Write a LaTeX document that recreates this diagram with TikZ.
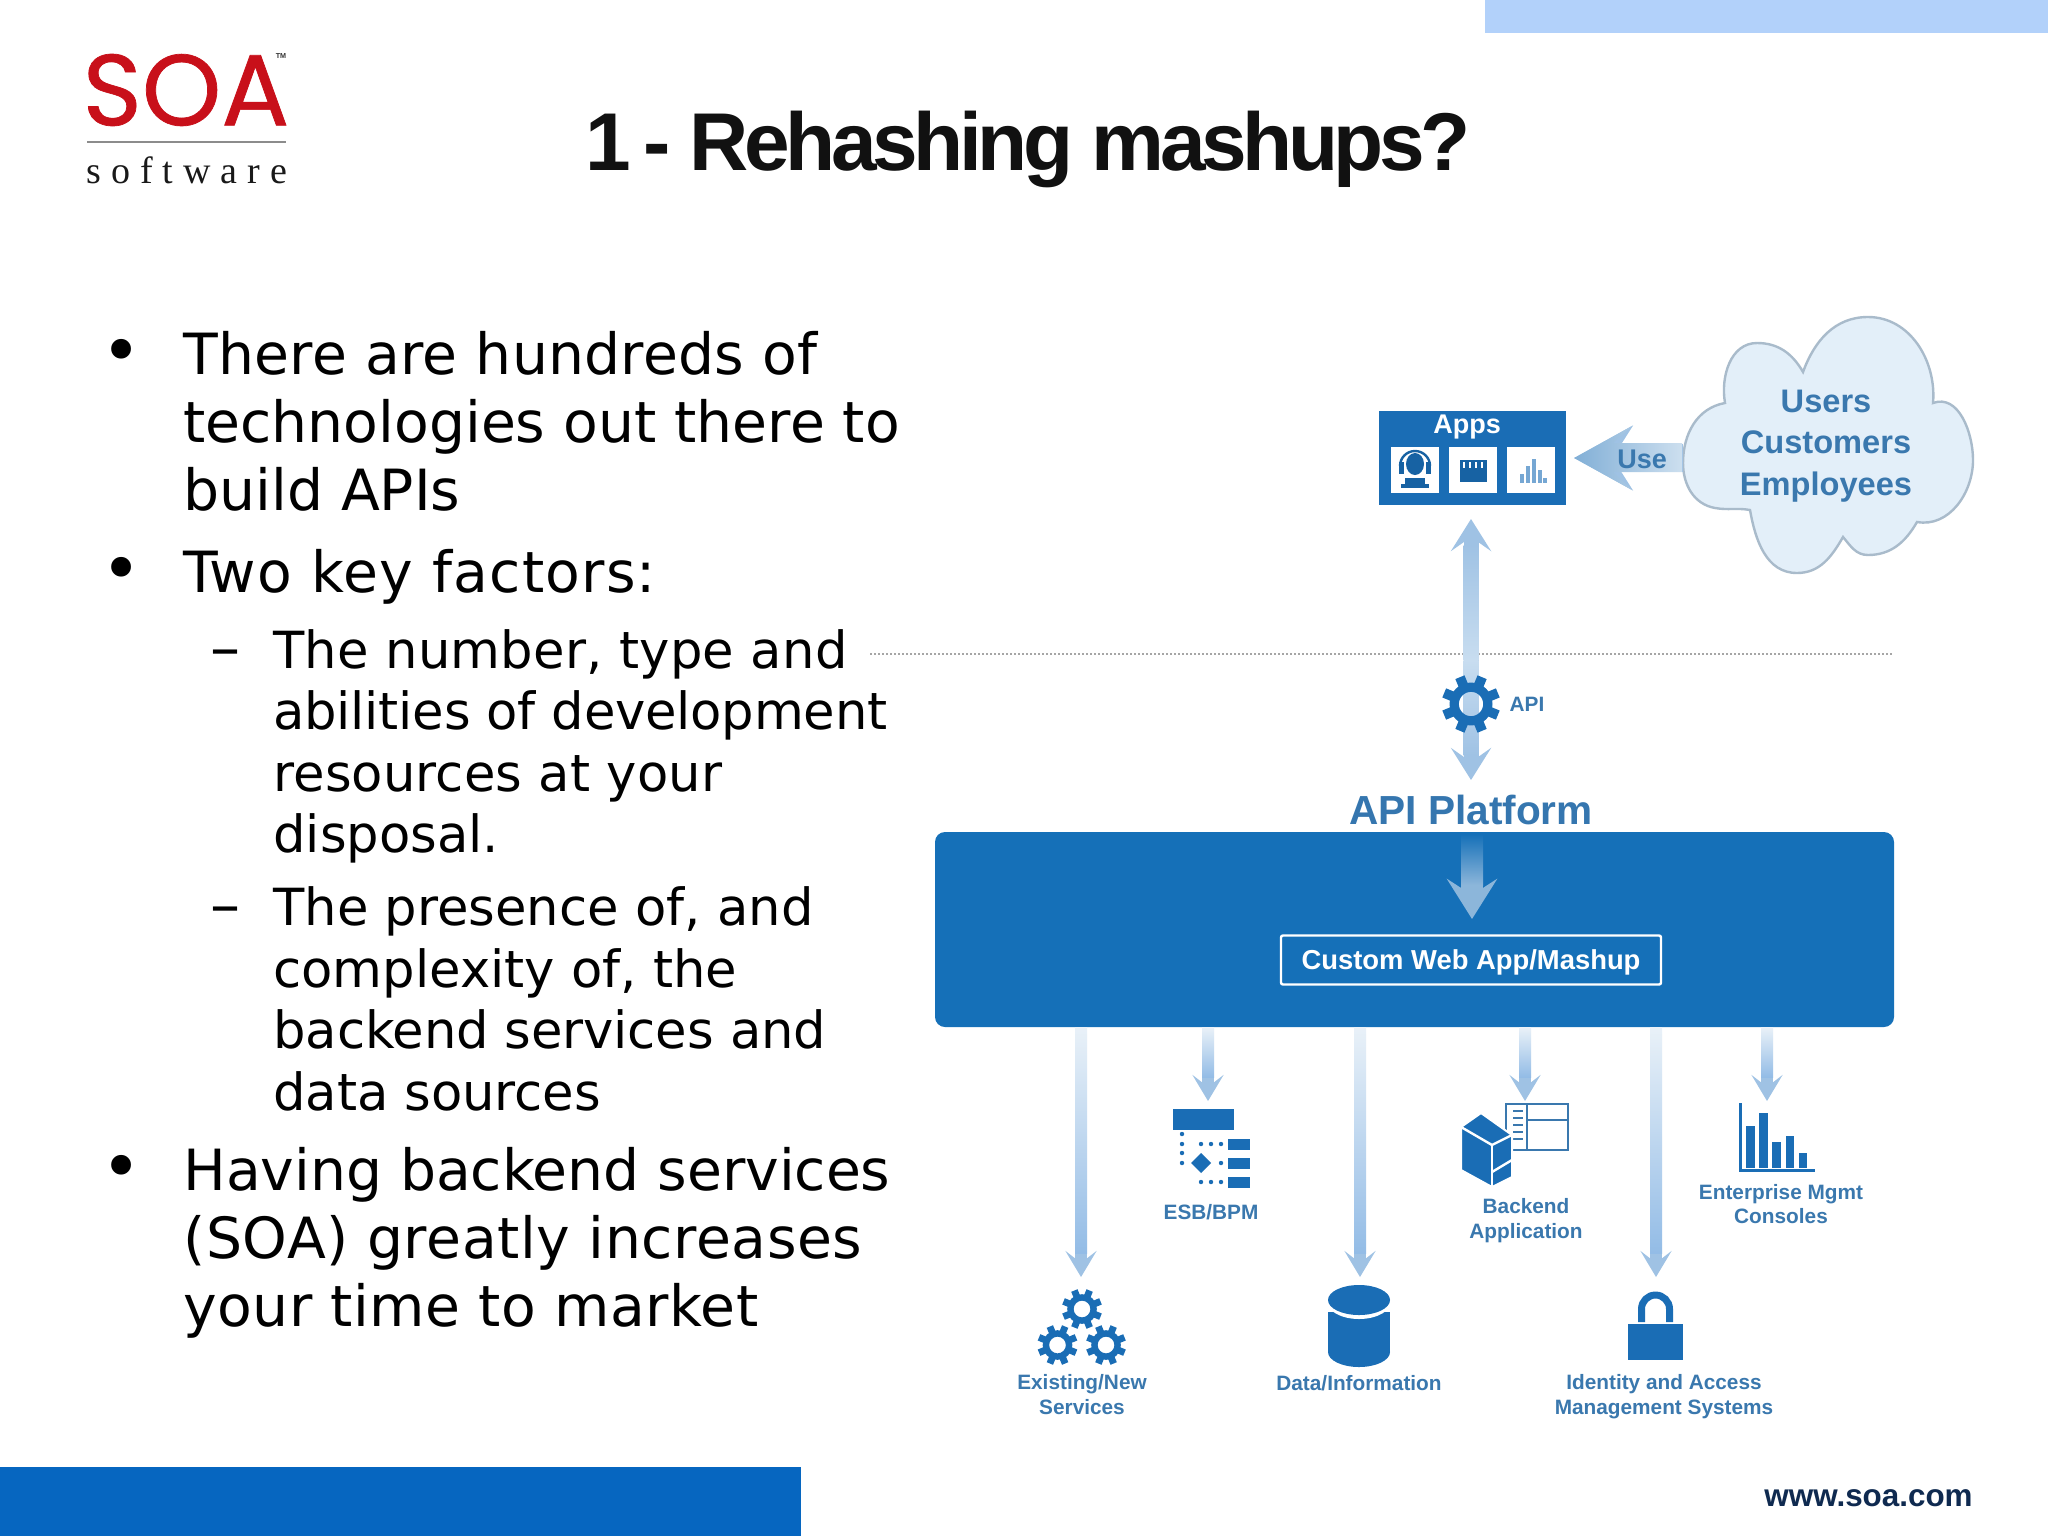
\documentclass[tikz,border=0pt]{standalone}
\usepackage{fontspec}
\setmainfont{DejaVu Sans}
\newfontfamily\arfont{Liberation Sans}
\newfontfamily\serfont{Liberation Serif}
\newfontfamily\logofont[FakeBold=0.7]{Poppins}
\usetikzlibrary{arrows.meta,calc,shapes.geometric}
\definecolor{iconblue}{HTML}{1A6DB5}
\definecolor{labblue}{HTML}{3A78AE}
\definecolor{boxblue}{HTML}{1570B8}
\definecolor{headblue}{HTML}{9FC2E4}
\definecolor{shaftend}{HTML}{93BCE6}
\definecolor{shafttop}{HTML}{E9F1F8}
\definecolor{shaftmid}{HTML}{C8DDF0}
\definecolor{logored}{HTML}{C8101A}
\definecolor{cloudfill}{HTML}{E3EFF9}
\definecolor{cloudedge}{HTML}{A9BBCB}
\definecolor{topbar}{RGB}{178,209,250}
\definecolor{botbar}{RGB}{6,102,192}
\definecolor{navy}{RGB}{15,42,80}
\newcommand\fsz[1]{\fontsize{#1}{#1}\selectfont}
\newcommand\lsp[1]{\addfontfeatures{LetterSpace=#1}}
\tikzset{
  bul/.style={anchor=base west,inner sep=0pt,font=\fsz{28.4},text=black},
  bulmark/.style={anchor=base,inner sep=0pt,font=\fsz{34},text=black},
  subl/.style={anchor=base west,inner sep=0pt,font=\fsz{25.6},text=black},
  submark/.style={anchor=base west,inner sep=0pt,font=\fsz{30},text=black},
  lab/.style={inner sep=0pt,align=center,text=labblue,font=\arfont\bfseries\fsz{10.4}},
  biglab/.style={inner sep=0pt,align=center,text=labblue,font=\arfont\bfseries\fsz{16.3}},
  conn/.style={line width=6pt,color=headblue,-{Stealth[length=13pt,width=15.5pt,inset=6pt]}},
  thinwhite/.style={white,line width=1.2pt},
}
% x, y, radius, colour
\newcommand\gearicon[4]{%
  \begin{scope}[shift={(#1,#2)}]
    \draw[#4,line width=#3*0.16pt] (0,0) circle[radius=#3*0.58];
    \foreach \a in {0,45,...,315}{
      \fill[#4,rotate=\a+22.5] (-#3*0.17,#3*0.6) rectangle (#3*0.17,#3);
    }
  \end{scope}}
% from, to: shaft gradient drawn over the connector
\newcommand\downconn[2]{%
  \draw[conn] (#1) -- (#2);
  \shade[top color=shafttop,bottom color=shaftend] ($(#1)+(-6,0)$) rectangle ($(#2)+(6,-24)$);}
\begin{document}
\begin{tikzpicture}[x=0.5pt,y=-0.5pt]
\useasboundingbox (0,0) rectangle (2048,1536);
\fill[white] (0,0) rectangle (2048,1536);
% slide furniture
\fill[topbar] (1485,0) rectangle (2048,33);
\fill[botbar] (0,1467) rectangle (801,1536);
\node[inner sep=0pt,anchor=east,text=navy,font=\arfont\bfseries\fsz{15.7}] (www) at (1973,1498) {www.soa.com};
% logo
\node[inner sep=0pt,text=logored,font=\logofont\fsz{50.5}] (soa) at (186,90) {SOA};
\node[inner sep=0pt,text=black!80,font=\arfont\bfseries\fsz{3.6}] (tm) at (281,56) {TM};
\draw[black!45,line width=0.7pt] (87,142) -- (286,142);
\node[inner sep=0pt,anchor=base west,text=black!90,font=\serfont\fsz{19}] (sw) at (86,183) {\makebox[100.5pt][s]{s\hfill o\hfill f\hfill t\hfill w\hfill a\hfill r\hfill e}};
% title
\node[inner sep=0pt,anchor=base east,text={rgb,255:red,17;green,17;blue,17},font=\arfont\bfseries\fsz{41}\lsp{-5.4}] (title) at (1471,170) {1\hspace{-3pt} - Rehashing mashups?};
% body text
\node[bulmark] (b1) at (122,374) {•};
\node[bul] (l1) at (183,374) {\lsp{0.4}There are hundreds of};
\node[bul] (l2) at (183,442) {technologies out there to};
\node[bul] (l3) at (183,510) {build APIs};
\node[bulmark] (b2) at (122,592) {•};
\node[bul] (l4) at (183,592) {\lsp{2.1}Two key factors:};
\node[submark] (d1) at (210,668) {–};
\node[subl] (l5) at (273,668) {\lsp{0.4}The number, type and};
\node[subl] (l6) at (273,729) {\lsp{-0.45}abilities of development};
\node[subl] (l7) at (273,791) {\lsp{0.2}resources at your};
\node[subl] (l8) at (273,852) {disposal.};
\node[submark] (d2) at (210,925) {–};
\node[subl] (l9) at (273,925) {The presence of, and};
\node[subl] (l10) at (273,987) {complexity of, the};
\node[subl] (l11) at (273,1048) {\lsp{-0.3}backend services and};
\node[subl] (l12) at (273,1110) {\lsp{-0.2}data sources};
\node[bulmark] (b3) at (122,1190) {•};
\node[bul] (l13) at (183,1190) {\lsp{-0.1}Having backend services};
\node[bul] (l14) at (183,1258) {\lsp{1.0}(SOA) greatly increases};
\node[bul] (l15) at (183,1326) {\lsp{0.75}your time to market};
% dotted rule
\draw[black!35,line width=1pt,dash pattern=on 1pt off 1pt] (870,654) -- (1893,654);
% cloud
\node[inner sep=0pt,minimum width=145pt,minimum height=128pt] (cloud) at (1828,445) {};
\filldraw[fill=cloudfill,draw=cloudedge,line width=1.2pt]
  (1803,372) to[out=70,in=180] (1868,317) to[out=0,in=85] (1933,403)
  to[out=20,in=90] (1973,460) to[out=-90,in=-10] (1917,522)
  to[out=-120,in=0] (1868,555) to[out=180,in=-50] (1843,537)
  to[out=-120,in=0] (1797,573) to[out=180,in=-80] (1750,510)
  to[out=170,in=-10] (1715,508) to[out=170,in=-90] (1683,463) to[out=90,in=190] (1725,403)
  to[out=100,in=180] (1757,343) to[out=0,in=120] (1803,372) -- cycle;
\node[biglab] (users) at (1826,401) {Users};
\node[biglab] (cust) at (1826,442) {Customers};
\node[biglab] (emp) at (1826,487) {Employees};
% apps box
\node[fill=iconblue,inner sep=0pt,minimum width=93.5pt,minimum height=47pt] (apps) at (1472.5,458) {};
\node[inner sep=0pt,text=white,font=\arfont\bfseries\fsz{13.5}] (appst) at (1467,427) {Apps};
\foreach \cx in {1415,1473,1531}{\fill[white] (\cx-24,447) rectangle (\cx+24,493);}
% headset icon
\fill[iconblue!90!black] (1415,464) ellipse[x radius=9,y radius=11];
\draw[iconblue!90!black,line width=1.2pt] (1400,466) arc[start angle=180,end angle=360,radius=15];
\fill[iconblue!90!black] (1399,462) rectangle (1404,474);
\fill[iconblue!90!black] (1426,462) rectangle (1431,474);
\fill[iconblue!90!black] (1401,484) rectangle (1429,488);
\fill[iconblue!90!black] (1405,478) rectangle (1425,484);
% clapper icon
\fill[iconblue!90!black] (1460,460) rectangle (1487,482);
\foreach \dx in {1464,1470,1476,1482}{\draw[white,line width=0.6pt] (\dx,462) -- (\dx,468);}
% mini chart icon
\foreach \bx/\bt in {1520/474,1526/466,1532/459,1538/470,1543/478}{\fill[iconblue!60!white] (\bx,\bt) rectangle (\bx+4,483);}
% Use arrow
\draw[conn,line width=14pt,-{Stealth[length=29pt,width=32pt,inset=10pt]},shorten >=4pt] (cloud.west |- apps.east) -- (apps.east);
\shade[left color=iconblue!55!white,right color=iconblue!22!white]
  (1574,458) -- (1632,426) -- (1613,443) -- (1682,443) -- (1682,472) -- (1613,472) -- (1632,490) -- cycle;
\node[biglab,font=\arfont\bfseries\fsz{13.5}] (use) at (1642,459) {Use};
% platform
\node[inner sep=0pt,text=labblue!85!iconblue,font=\arfont\bfseries\fsz{20.3}] (plat) at (1471,810) {API Platform};
\node[fill=boxblue,rounded corners=5pt,inner sep=0pt,minimum width=479.5pt,minimum height=97.5pt] (box) at (1414.5,929.5) {};
% API vertical arrow
\coordinate (apiA) at (1471,519);
\coordinate (apiB) at (1471,780);
\draw[conn,line width=7.5pt,{Stealth[length=16pt,width=20pt,inset=7pt]}-{Stealth[length=16pt,width=20pt,inset=7pt]}] (apiA) -- (apiB);
\shade[top color=headblue,bottom color=shaftmid] (1463.5,545) rectangle (1478.5,660);
\shade[top color=shaftmid,bottom color=headblue] (1463.5,660) rectangle (1478.5,755);
\gearicon{1471}{704}{29}{iconblue}
\node[lab] (api) at (1527,704) {API};
% inner arrow
\coordinate (inA) at (1472,834);
\coordinate (inB) at (1472,919);
\draw[conn,line width=11pt,color=iconblue!50!white,-{Stealth[length=20pt,width=25pt,inset=8pt]}] (inA) -- (inB);
\shade[top color=boxblue,bottom color=iconblue!50!white] (1461,834) rectangle (1483,885);
\node[draw=white,line width=1.2pt,rounded corners=1pt,inner sep=0pt,minimum width=190pt,minimum height=24.5pt] (custbox) at (1471,960) {};
\node[inner sep=0pt,text=white,font=\arfont\bfseries\fsz{13.7}] (custt) at (1471,962) {Custom Web App/Mashup};
% bottom arrows
\coordinate (t1) at (1081,1277);
\coordinate (t2) at (1208,1101);
\coordinate (t3) at (1360,1277);
\coordinate (t4) at (1525,1101);
\coordinate (t5) at (1656,1277);
\coordinate (t6) at (1767,1101);
\downconn{box.south -| t1}{t1}
\downconn{box.south -| t2}{t2}
\downconn{box.south -| t3}{t3}
\downconn{box.south -| t4}{t4}
\downconn{box.south -| t5}{t5}
\downconn{box.south -| t6}{t6}
% gears
\gearicon{1082}{1309}{20}{iconblue}
\gearicon{1057.5}{1345}{20}{iconblue}
\gearicon{1106}{1345}{20}{iconblue}
\node[lab] (exist) at (1082,1394.5) {Existing/New\\[2pt]Services};
% ESB icon
\fill[iconblue] (1173,1109) rectangle (1234,1130);
\foreach \ry in {1139,1158,1177}{\fill[iconblue] (1228,\ry) rectangle (1250,\ry+11);}
\foreach \dy in {1134,1144,1153,1163}{\fill[iconblue] (1182,\dy) circle[radius=2.2];}
\foreach \dx in {1201,1211,1221}{\fill[iconblue] (\dx,1144) circle[radius=2.2];\fill[iconblue] (\dx,1182) circle[radius=2.2];}
\fill[iconblue] (1221,1163) circle[radius=2.2];
\fill[iconblue] (1191,1163) -- (1201,1153) -- (1211,1163) -- (1201,1173) -- cycle;
\node[lab] (esb) at (1211,1212) {ESB/BPM};
% cylinder
\fill[iconblue] (1359,1352) ellipse[x radius=31,y radius=15];
\fill[iconblue] (1328,1312) rectangle (1390,1352);
\fill[white] (1359,1300) ellipse[x radius=33,y radius=19];
\fill[iconblue] (1359,1300) ellipse[x radius=31,y radius=15];
\node[lab] (data) at (1359,1383) {Data/Information};
% backend icon
\draw[labblue,line width=1.3pt] (1506,1104) rectangle (1568,1150);
\draw[labblue,line width=1.3pt] (1527,1104) -- (1527,1150);
\draw[labblue,line width=1.3pt] (1527,1120) -- (1568,1120);
\foreach \ly in {1111,1118,1125,1132,1139}{\draw[labblue,line width=1pt] (1513,\ly) -- (1523,\ly);}
\filldraw[iconblue,draw=white,line width=1pt] (1481,1113) -- (1461,1127) -- (1461,1170) -- (1492,1187) -- (1512,1177) -- (1512,1135) -- cycle;
\draw[thinwhite] (1461,1127) -- (1492,1145) -- (1512,1135);
\draw[thinwhite] (1492,1145) -- (1492,1187);
\draw[thinwhite] (1492,1172) -- (1512,1160);
\node[lab] (back) at (1526,1220.5) {Backend\\[2pt]Application};
% lock
\fill[iconblue] (1628,1324) rectangle (1683,1360);
\draw[iconblue,line width=3.5pt] (1641.5,1322) -- (1641.5,1309) arc[start angle=180,end angle=360,radius=14] -- (1669.5,1322);
\node[lab] (ident) at (1664,1396.5) {Identity and Access\\[2pt]Management Systems};
% chart
\draw[iconblue,line width=1.5pt] (1740,1103) -- (1740,1170) -- (1815,1170);
\foreach \ba/\bb/\bc in {1746/1755/1126,1759/1768/1113,1772/1781/1142,1786/1794/1136,1799/1807/1153}{\fill[iconblue] (\ba,\bc) rectangle (\bb,1168);}
\node[lab] (ent) at (1781,1204) {Enterprise Mgmt\\[2pt]Consoles};
\end{tikzpicture}
\end{document}
